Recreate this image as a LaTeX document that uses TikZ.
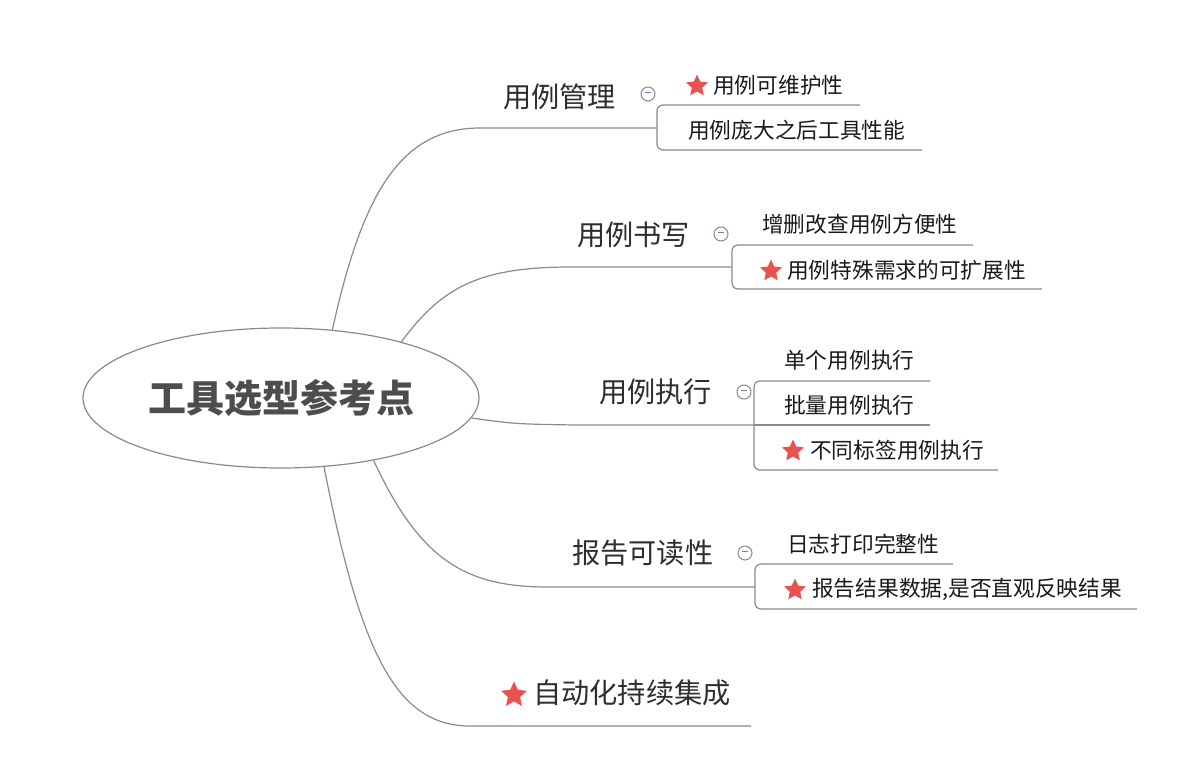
\documentclass[tikz,border=0pt]{standalone}
\usepackage{fontspec}
\setmainfont{Noto Sans CJK SC}
\usepackage{xcolor}
\usetikzlibrary{shapes.geometric}
\definecolor{linegray}{HTML}{8A8A8A}
\definecolor{txtgray}{HTML}{2E2E2E}
\definecolor{rootgray}{HTML}{4D4D4D}
\definecolor{starred}{HTML}{E9524F}
\definecolor{minusblue}{HTML}{7080C0}

\begin{document}
\begin{tikzpicture}[
  x=1pt, y=-1pt,
  root/.style={ellipse, draw=linegray, line width=1.2pt, minimum width=396pt, minimum height=140pt, inner sep=0pt, text=rootgray, font=\fontsize{38}{38}\selectfont\bfseries},
  branch/.style={anchor=west, inner sep=0pt, text=txtgray, font=\fontsize{28.2}{28.2}\selectfont},
  leaf/.style={anchor=west, inner sep=0pt, text=black!90, font=\fontsize{21.7}{21.7}\selectfont},
  fold/.style={circle, draw=linegray, line width=1pt, minimum size=14pt, inner sep=0pt, fill=white},
  staricon/.style={star, star points=5, star point ratio=2.1, fill=starred, minimum size=23pt, inner sep=0pt},
  conn/.style={draw=linegray, line width=1.2pt},
  bracket/.style={conn, rounded corners=6pt}
]
\useasboundingbox (0,0) rectangle (1197,779);

\node[root] (root) at (281,398) {工具选型参考点};

\node[branch] (b1) at (503,97) {用例管理};
\node[branch] (b2) at (577,235) {用例书写};
\node[branch] (b3) at (599,392) {用例执行};
\node[branch] (b4) at (572,553) {报告可读性};
\node[branch] (b5) at (533,693) {自动化持续集成};
\node[staricon, minimum size=27pt] (s5) at (514,695) {};

\coordinate (b1s) at (480,128);
\coordinate (b2s) at (570,267);
\coordinate (b3s) at (575,425);
\coordinate (b4s) at (548,587);
\coordinate (b5s) at (470,726);
\coordinate (b5e) at (751,726);

\coordinate (m1) at (657,128);
\coordinate (m2) at (732,267);
\coordinate (m3) at (754,425);
\coordinate (m4) at (755,587);

\node[leaf] (l11) at (713,85) {用例可维护性};
\node[staricon] (s1) at (697,86) {};
\node[leaf] (l12) at (688,130) {用例庞大之后工具性能};
\node[leaf] (l21) at (762,224) {增删改查用例方便性};
\node[leaf] (l22) at (787,270) {用例特殊需求的可扩展性};
\node[staricon] (s2) at (771,271) {};
\node[leaf] (l31) at (784,360) {单个用例执行};
\node[leaf] (l32) at (784,405) {批量用例执行};
\node[leaf] (l33) at (810,450) {不同标签用例执行};
\node[staricon] (s3) at (793,451) {};
\node[leaf] (l41) at (787,544) {日志打印完整性};
\node[leaf] (l42) at (812,589) {报告结果数据,是否直观反映结果};
\node[staricon] (s4) at (795,590) {};

\coordinate (l11e) at (860,105);
\coordinate (l12e) at (922,150);
\coordinate (l21e) at (973,245);
\coordinate (l22e) at (1042,289);
\coordinate (l31e) at (930,381);
\coordinate (l32e) at (930,425);
\coordinate (l33e) at (998,470);
\coordinate (l41e) at (953,564);
\coordinate (l42e) at (1137,609);

\draw[conn] (root.53) .. controls (362,195) and (400,128) .. (b1s) -- (m1);
\draw[conn] (root.25) .. controls (440,290) and (475,267) .. (b2s) -- (m2);
\draw[conn] (root.-6) .. controls (515,424) .. (b3s) -- (m3);
\draw[conn] (root.-34) .. controls (420,560) and (465,587) .. (b4s) -- (m4);
\draw[conn] (root.-58) .. controls (360,650) and (395,726) .. (b5s) -- (b5e);

\draw[bracket] (l11e) -| (m1) |- (l12e);
\draw[bracket] (l21e) -| (m2) |- (l22e);
\draw[bracket] (l31e) -| (m3) |- (l33e);
\draw[conn] (m3) -- (l32e);
\draw[bracket] (l41e) -| (m4) |- (l42e);

\node[fold] (f1) at (648,94) {\textcolor{minusblue}{\rule[2.5pt]{6pt}{1pt}}};
\node[fold] (f2) at (721,234) {\textcolor{minusblue}{\rule[2.5pt]{6pt}{1pt}}};
\node[fold] (f3) at (744,392) {\textcolor{minusblue}{\rule[2.5pt]{6pt}{1pt}}};
\node[fold] (f4) at (745,553) {\textcolor{minusblue}{\rule[2.5pt]{6pt}{1pt}}};
\end{tikzpicture}
\end{document}
